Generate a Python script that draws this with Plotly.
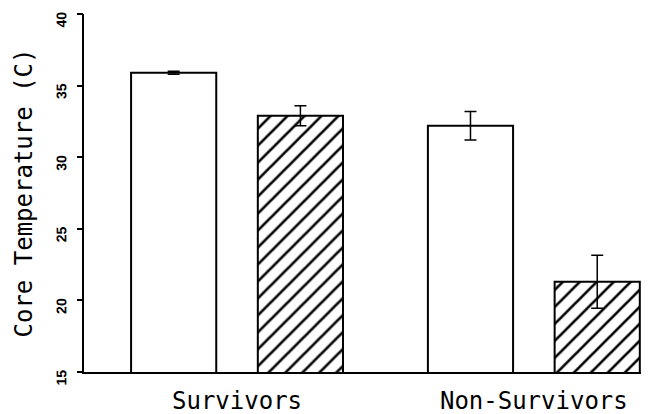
import plotly.graph_objects as go

groups = ["Survivors", "Non-Survivors"]
open_vals = [35.9, 32.2]
open_err = [0.1, 1.0]
hatched_vals = [32.9, 21.3]
hatched_err = [0.7, 1.85]
y_ticks = [15, 20, 25, 30, 35, 40]

mono = "DejaVu Sans Mono"

fig = go.Figure()
fig.add_bar(
    x=groups, y=open_vals, name="Series 1",
    error_y=dict(type="data", array=open_err, color="black", thickness=1.5, width=6),
    marker=dict(color="white", line=dict(color="black", width=2)),
)
fig.add_bar(
    x=groups, y=hatched_vals, name="Series 2",
    error_y=dict(type="data", array=hatched_err, color="black", thickness=1.5, width=6),
    marker=dict(color="white", line=dict(color="black", width=2),
                pattern=dict(shape="/", size=12, solidity=0.22, fgcolor="black",
                             bgcolor="white", fgopacity=1)),
)
# invisible helper trace so the overlay axis (short tick marks) gets drawn
fig.add_scatter(
    x=groups, y=open_vals, yaxis="y2", mode="markers",
    marker=dict(opacity=0, size=1), hoverinfo="skip", showlegend=False,
)

fig.update_layout(
    width=652, height=414,
    margin=dict(l=84, r=11, t=14, b=42),
    paper_bgcolor="white", plot_bgcolor="white",
    barmode="group", bargap=0.146, bargroupgap=0.328,
    showlegend=False,
    xaxis=dict(
        range=[-0.5156, 1.361], showline=True, linecolor="black", linewidth=2,
        ticks="", showgrid=False, zeroline=False, automargin=False,
        tickfont=dict(family=mono, size=24, color="black"),
        ticklabelstandoff=6,
    ),
    # primary y axis: line, rotated labels (pushed out with invisible long ticks) and title
    yaxis=dict(
        range=[15, 40], tickvals=y_ticks,
        showline=True, linecolor="black", linewidth=2,
        ticks="outside", ticklen=20, tickwidth=1, tickcolor="rgba(0,0,0,0)",
        showgrid=False, zeroline=False, automargin=False, tickangle=-89.9,
        tickfont=dict(family="Liberation Sans", size=14, color="black", weight="bold"),
        title=dict(text="Core Temperature (C)", font=dict(family=mono, size=24, color="black"), standoff=14),
    ),
    # overlay axis that only draws the short visible tick marks
    yaxis2=dict(
        range=[15, 40], tickvals=y_ticks, overlaying="y", side="left", anchor="x",
        showticklabels=False, showline=False, showgrid=False, zeroline=False,
        ticks="outside", ticklen=6, tickwidth=1.5, tickcolor="black", automargin=False,
    ),
)

fig.write_html("out.html", config={"displayModeBar": False},
               post_script="document.body.style.margin='0';")
